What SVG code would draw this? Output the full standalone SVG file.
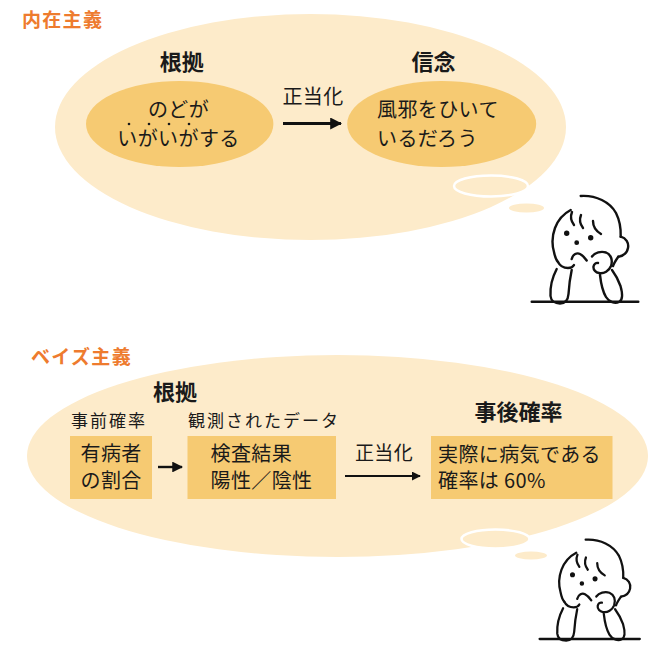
<svg xmlns="http://www.w3.org/2000/svg" xmlns:xlink="http://www.w3.org/1999/xlink" width="650" height="648" viewBox="0 0 650 648">
  <style>
    text { font-family: "Noto Sans CJK JP", "Noto Sans", sans-serif; fill: #1a1a1a; }
    .title { font-size: 19px; font-weight: bold; fill: #ee7b2e; letter-spacing: 1.3px; }
    .head { font-size: 22px; font-weight: bold; }
    .body { font-size: 20px; letter-spacing: 0.4px; }
    .label { font-size: 17px; letter-spacing: 2px; }
    .cloud { fill: #fdebca; }
    .puff { fill: #fdebca; stroke: #ffffff; stroke-width: 2.5; }
    .core { fill: #f6ca72; }
    .box { fill: #f6ca72; }
    .fig { fill: none; stroke: #111111; stroke-width: 2.4; stroke-linecap: round; stroke-linejoin: round; }
    .link { stroke: #111111; fill: none; }
  </style>
  <defs>
    <marker id="headBig" viewBox="0 0 10 10" refX="9" refY="5" markerWidth="4" markerHeight="4" markerUnits="strokeWidth" orient="auto">
      <path d="M0,0 L10,5 L0,10 Z" fill="#111111"/>
    </marker>
    <marker id="headSmall" viewBox="0 0 10 10" refX="9" refY="5" markerWidth="4.5" markerHeight="4.5" markerUnits="strokeWidth" orient="auto">
      <path d="M0,0 L10,5 L0,10 Z" fill="#111111"/>
    </marker>
    <!-- thinking person resting chin on hands -->
    <g id="thinker" class="fig">
      <path d="M1.7,111.7 L108.3,111.7"/>
      <path d="M50.7,6 C66,5 80,12 86,23 C90,31 91,39 90.7,46.7"/>
      <path d="M40.7,20 C33,24 28,30 25,38 C22,46 22,55 24,62 C25,67 26,70 28,72"/>
      <path d="M42,22 C40,27 41,31 44,35"/>
      <path d="M51,25 C49,30 50,34 53,38"/>
      <path d="M63,31 C63,37 66,41 71,44"/>
      <path d="M90.7,46.7 C96,48 99,53 98,58 C97,63 93,66 88.3,66.7"/>
      <path d="M88.3,66.7 C86,70 84,73 83,76"/>
      <circle cx="36.7" cy="43.3" r="1.5" fill="#111111"/>
      <circle cx="60.7" cy="47.7" r="1.5" fill="#111111"/>
      <circle cx="46.7" cy="52.7" r="1.2" fill="#111111"/>
      <path d="M41.7,69 C43,64 47,62.5 50,64 C53,65.5 55,68 56.7,70.5"/>
      <path d="M28,72 C30,76 34,78 38,78 C41,78 43,77 44,75"/>
      <path d="M62,66.5 C65,62.5 71,61 76,62.5 C81,64.5 83,70 81,76 C79,81 74,84 69,83 C66,82.5 63,80 63.5,76.5 C64,74 66,72.5 68,73"/>
      <path d="M26.7,79 C22,88 20,98 20.5,106 C21,111 25,113.5 30,113.5 C35,113.5 38,110 38.5,104 C39,96 40,88 41.7,80"/>
      <path d="M70,85 C71,94 73,102 76,107 C79,112 85,114 89,112 C93,110 92.5,103 90.5,96 C88,89 85,84 82,80"/>
    </g>
  </defs>

  <!-- internalism -->
  <g id="internalism">
    <text class="title" x="22" y="27">内在主義</text>
    <ellipse class="cloud" cx="310.5" cy="127" rx="255.5" ry="113"/>
    <ellipse class="puff" cx="491" cy="186" rx="37" ry="10.5"/>
    <ellipse class="cloud" cx="526.5" cy="208" rx="17.5" ry="4.5"/>
    <use xlink:href="#thinker" transform="translate(530,190)"/>
  </g>

  <g id="evidence">
    <text class="head" x="181.7" y="70" text-anchor="middle">根拠</text>
    <ellipse class="core" cx="179.7" cy="124" rx="93.7" ry="43"/>
    <text class="body" x="178.5" y="117" text-anchor="middle">のどが</text>
    <text class="body" x="178.5" y="146" text-anchor="middle">いがいがする</text>
    <g fill="#1a1a1a">
      <circle cx="129" cy="124" r="1.3"/>
      <circle cx="149" cy="124" r="1.3"/>
      <circle cx="169" cy="124" r="1.3"/>
      <circle cx="189" cy="124" r="1.3"/>
    </g>
  </g>

  <g id="belief">
    <text class="head" x="433.5" y="70" text-anchor="middle">信念</text>
    <ellipse class="core" cx="441.7" cy="124" rx="94.5" ry="43"/>
    <text class="body" x="377" y="117">風邪をひいて</text>
    <text class="body" x="377" y="146">いるだろう</text>
  </g>

  <!-- Bayesianism -->
  <g id="bayesianism">
    <text class="title" x="31" y="364">ベイズ主義</text>
    <ellipse class="cloud" cx="337.5" cy="456" rx="310.5" ry="101"/>
    <ellipse class="puff" cx="495.5" cy="539" rx="34" ry="9.5"/>
    <ellipse class="cloud" cx="531" cy="555.5" rx="16" ry="4"/>
    <use xlink:href="#thinker" transform="translate(538,534) scale(0.94)"/>
    <text class="head" x="175" y="400" text-anchor="middle">根拠</text>
  </g>

  <g id="prior">
    <text class="label" x="71" y="427">事前確率</text>
    <rect class="box" x="70" y="436" width="82" height="63"/>
    <text class="body" x="80.5" y="461">有病者</text>
    <text class="body" x="80.5" y="488">の割合</text>
  </g>

  <g id="data">
    <text class="label" x="188" y="427">観測されたデータ</text>
    <rect class="box" x="187.5" y="436" width="148.5" height="63"/>
    <text class="body" x="210.5" y="461">検査結果</text>
    <text class="body" x="210.5" y="488">陽性／陰性</text>
  </g>

  <g id="posterior">
    <text class="head" x="518.5" y="420" text-anchor="middle">事後確率</text>
    <rect class="box" x="431" y="436" width="181.5" height="63"/>
    <text class="body" x="438" y="462">実際に病気である</text>
    <text class="body" x="438" y="488">確率は 60%</text>
  </g>

  <!-- connectors -->
  <g id="connectors">
    <text class="body" x="313" y="104" text-anchor="middle">正当化</text>
    <line class="link" x1="283" y1="123.5" x2="341" y2="123.5" stroke-width="3" marker-end="url(#headBig)"/>
    <line class="link" x1="158" y1="467" x2="182" y2="467" stroke-width="2.4" marker-end="url(#headSmall)"/>
    <text class="body" x="384" y="460" text-anchor="middle" style="font-size:19px">正当化</text>
    <line class="link" x1="345" y1="476" x2="420" y2="476" stroke-width="2" marker-end="url(#headSmall)"/>
  </g>
</svg>
